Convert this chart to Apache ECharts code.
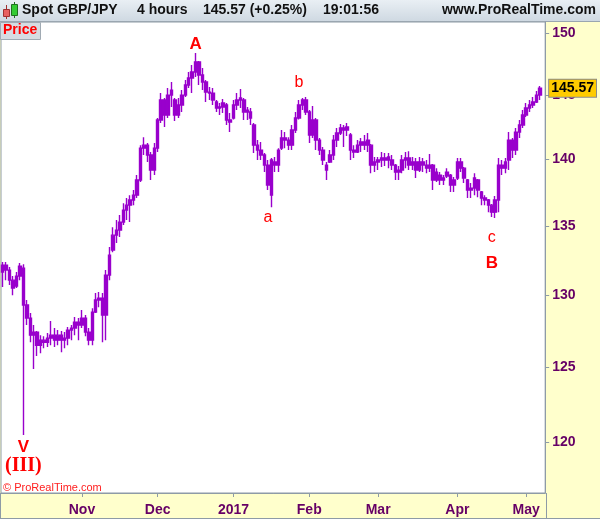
<!DOCTYPE html>
<html><head><meta charset="utf-8">
<script src="https://cdn.jsdelivr.net/npm/echarts@6/dist/echarts.min.js"></script>
<style>html,body{margin:0;padding:0;background:#ffffcc;}#c{width:600px;height:519px;}</style>
</head><body><div id="c"></div>
<script>
// Trading calendar (weekdays) shown on the category axis
const firstDay = '2016-09-29';
const lastDay = '2017-05-08';
const monthTicks = ['2016-11','2016-12','2017-01','2017-02','2017-03','2017-04','2017-05'];
const monthLabels = ['Nov','Dec','2017','Feb','Mar','Apr','May'];
const yTicks = [120,125,130,135,140,145,150];
const yRange = [116.69,150.93];
const lastPrice = [145.57];

// daily OHLC
const open = [131.66,132.16,131.80,131.08,130.65,131.37,131.94,129.31,128.39,127.20,127.41,126.50,126.85,126.71,126.99,127.20,126.85,127.20,126.85,126.99,127.55,127.69,128.11,127.90,128.39,127.41,126.85,128.81,129.66,129.80,128.60,131.44,133.25,134.34,134.71,135.30,136.19,136.56,136.94,137.31,138.45,140.88,141.11,140.35,139.20,140.88,143.06,144.63,143.45,145.02,144.63,143.45,144.24,145.02,145.82,146.38,146.86,147.67,146.62,146.06,145.26,145.18,144.48,144.00,144.08,144.24,143.06,143.22,144.24,144.63,144.63,143.69,143.69,142.67,141.11,140.73,140.35,139.58,137.31,139.82,139.58,140.88,141.66,141.50,141.11,142.28,143.22,144.24,144.63,143.69,141.89,143.06,141.50,140.73,139.58,139.82,140.35,141.50,142.05,142.44,142.28,141.89,140.73,140.58,141.11,141.35,141.11,141.11,139.58,139.82,139.97,140.12,139.97,139.97,139.58,139.05,139.20,139.97,140.12,139.58,139.82,139.20,139.82,139.58,139.35,139.58,138.45,138.82,138.45,138.75,138.82,138.07,138.60,139.82,139.35,138.45,137.69,137.84,138.45,137.54,137.09,136.94,136.56,136.04,136.94,139.58,139.35,139.97,141.50,140.73,142.12,142.67,143.45,144.00,144.24,144.48,145.02];
const close = [132.16,131.80,131.08,130.51,131.37,132.09,129.31,128.39,127.20,127.41,126.50,126.85,126.71,126.99,127.20,126.85,127.20,126.85,126.99,127.55,127.69,128.11,127.90,128.39,127.41,126.85,128.81,129.66,129.80,128.60,131.44,132.88,134.34,134.71,135.30,136.19,136.56,136.94,137.31,138.45,140.88,141.11,140.35,139.20,140.88,143.06,144.63,143.45,145.02,145.42,143.45,144.24,145.02,145.82,146.38,146.86,147.67,146.62,146.06,145.26,145.18,144.63,144.00,144.08,144.40,143.06,142.91,144.24,144.63,144.79,143.69,143.84,143.22,141.11,140.73,140.35,139.58,138.07,139.97,139.58,140.73,141.66,141.50,141.11,142.28,143.22,144.24,144.63,143.69,141.89,143.06,141.50,140.73,139.97,139.20,140.35,141.50,142.05,142.44,142.28,142.52,140.73,140.58,141.11,141.35,141.11,141.50,139.58,139.82,139.97,140.12,139.97,140.20,139.58,139.05,139.20,139.97,140.12,139.58,139.82,139.20,139.82,139.58,139.35,139.58,138.45,139.05,138.45,138.60,139.05,138.07,138.45,139.82,139.35,138.60,137.69,137.84,138.60,137.69,137.09,136.94,136.56,136.04,136.94,139.58,139.35,139.82,141.50,140.73,142.12,142.67,143.45,144.00,144.24,144.48,145.02,145.57];
const low = [130.58,131.08,130.73,130.01,130.51,131.08,120.44,127.90,126.71,124.86,125.75,125.95,126.30,126.37,126.50,126.37,126.50,126.02,126.30,126.50,126.85,127.20,126.85,127.69,127.13,126.50,126.50,128.74,129.16,126.71,126.85,131.08,133.10,133.76,134.20,135.08,135.45,135.30,136.56,137.09,138.30,140.35,139.82,138.45,138.82,140.58,142.83,142.52,143.22,144.08,142.98,143.22,143.69,144.87,145.58,145.18,146.46,145.82,145.42,144.48,144.63,144.24,143.69,143.45,143.61,142.67,142.12,143.10,143.84,144.00,143.06,143.06,142.67,140.50,139.97,139.97,139.05,137.69,136.41,139.05,139.05,140.73,140.88,140.73,140.73,142.05,143.10,143.84,143.45,141.27,141.66,140.73,140.35,139.58,138.45,139.74,139.97,140.96,141.89,140.96,141.81,139.97,140.12,140.50,140.58,140.73,140.58,138.97,139.05,139.20,139.43,139.51,139.35,139.20,138.45,138.45,138.97,139.35,139.20,139.20,138.60,139.05,139.05,138.97,139.05,137.69,138.30,138.07,138.07,138.60,137.54,137.54,138.45,139.05,138.22,137.09,137.09,137.31,137.16,136.56,136.56,136.04,135.67,135.60,136.04,138.82,138.97,139.20,140.12,140.35,141.66,142.44,143.29,143.69,144.00,144.40,144.63];
const high = [132.38,132.38,132.02,131.37,131.66,132.31,132.23,129.66,128.74,127.90,127.48,127.20,127.13,127.34,128.18,127.69,127.55,127.48,127.41,127.76,127.90,128.46,128.39,128.95,128.60,127.69,129.09,130.16,130.23,130.16,131.80,133.47,134.93,135.45,135.82,136.71,137.09,137.31,137.69,138.82,141.11,141.73,141.27,140.58,141.27,143.22,145.18,144.79,145.58,146.06,144.79,144.79,145.42,146.22,146.86,147.42,148.40,147.75,147.18,146.22,145.66,145.58,144.63,144.40,144.71,144.40,143.61,144.63,145.18,145.50,144.79,144.08,144.00,142.83,141.50,141.35,140.50,139.97,140.12,140.20,140.88,142.28,142.12,141.73,142.67,143.69,144.63,144.79,144.87,143.84,144.16,143.22,141.66,140.96,139.82,140.73,141.89,142.44,142.75,142.67,142.83,142.05,141.11,141.50,141.66,141.89,142.05,141.20,140.20,140.20,140.58,140.50,140.50,140.35,139.66,139.51,140.35,140.58,140.65,140.20,140.12,140.20,140.12,139.97,140.43,139.66,139.35,139.05,138.82,139.35,138.90,138.67,140.12,140.12,139.43,138.52,138.22,138.97,138.52,137.62,137.31,137.02,136.64,137.24,140.12,139.97,140.12,142.12,141.66,142.44,143.06,143.84,144.40,144.63,144.87,145.34,145.74];

// wave annotations: text, day index, price level
const annoText = ['A','b','a','c','B','V','(III)'];
const annoDay = [56,86,77,142,142,6,6];
const annoPrice = [149.13,145.98,135.60,134.13,132.31,119.65,118.41];

const days = [];
for (let d = new Date(firstDay + 'T00:00:00Z'); d <= new Date(lastDay + 'T00:00:00Z'); d.setUTCDate(d.getUTCDate() + 1)) {
  const w = d.getUTCDay();
  if (w > 0 && w < 6) days.push(d.toISOString().slice(0, 10));
}
const isMonthStart = (i) => i > 0 && days[i].slice(0,7) !== days[i-1].slice(0,7) && monthTicks.indexOf(days[i].slice(0,7)) >= 0;
const ohlc = open.map((o, i) => [Math.log(o), Math.log(close[i]), Math.log(low[i]), Math.log(high[i])]);

const PURPLE = '#9900cc';
const AXC = '#8e9ba6';
const LBL = '#660066';
const FF = 'Liberation Sans, Arial, sans-serif';

const annoStyle = (t) => {
  if (t === '(III)') return {fontFamily: 'Liberation Serif, serif', fontWeight: 'bold', fontSize: 20};
  if (t === 'A' || t === 'B' || t === 'V') return {fontFamily: FF, fontWeight: 'bold', fontSize: 17};
  return {fontFamily: FF, fontWeight: 'normal', fontSize: 16};
};

const chart = echarts.init(document.getElementById('c'), null, {renderer: 'canvas'});
chart.setOption({
  animation: false,
  backgroundColor: '#ffffcc',
  grid: {left: 1, right: 54, top: 22, bottom: 26, show: true, backgroundColor: '#ffffff', borderColor: AXC, borderWidth: 1},
  xAxis: {
    type: 'category', data: days, boundaryGap: true,
    axisLine: {show: true, lineStyle: {color: AXC}},
    axisTick: {show: true, alignWithLabel: true, interval: (i) => isMonthStart(i), length: 4, lineStyle: {color: AXC}},
    axisLabel: {interval: (i) => isMonthStart(i), formatter: (v) => monthLabels[monthTicks.indexOf(v.slice(0,7))],
      color: LBL, fontWeight: 'bold', fontSize: 14, fontFamily: FF, margin: 10},
    splitLine: {show: false}
  },
  yAxis: [{
    type: 'value', position: 'right', min: Math.log(yRange[0]), max: Math.log(yRange[1]),
    splitLine: {show: false},
    axisLine: {show: true, lineStyle: {color: AXC}},
    axisTick: {show: true, customValues: yTicks.map(Math.log), length: 4, lineStyle: {color: AXC}},
    axisLabel: {customValues: yTicks.map(Math.log), formatter: (v) => String(Math.round(Math.exp(v))),
      color: LBL, fontWeight: 'bold', fontSize: 14, fontFamily: FF, margin: 7}
  }, {
    type: 'value', position: 'right', min: Math.log(yRange[0]), max: Math.log(yRange[1]),
    splitLine: {show: false}, axisLine: {show: false},
    axisTick: {show: false},
    axisLabel: {customValues: lastPrice.map(Math.log), formatter: (v) => Math.exp(v).toFixed(2),
      color: '#000', fontWeight: 'bold', fontSize: 14, fontFamily: FF, margin: 4,
      backgroundColor: '#ffcc00', borderColor: '#8a8a8a', borderWidth: 1, padding: [2, 2, 1, 2]}
  }],
  series: [{
    type: 'candlestick', data: ohlc, barWidth: 3,
    itemStyle: {color: PURPLE, color0: PURPLE, borderColor: PURPLE, borderColor0: PURPLE, borderColorDoji: PURPLE, borderWidth: 1.4},
    markPoint: {
      symbol: 'rect', symbolSize: 1, itemStyle: {color: 'transparent'},
      data: annoText.map((t, i) => ({
        coord: [days[annoDay[i]], Math.log(annoPrice[i])],
        label: Object.assign({show: true, position: 'inside', formatter: t, color: '#ff0000'}, annoStyle(t))
      }))
    }
  }],
  graphic: [
    {type: 'rect', shape: {x: 0, y: 0, width: 600, height: 21}, style: {fill: new echarts.graphic.LinearGradient(0, 0, 0, 1, [{offset: 0, color: '#e9eff4'}, {offset: 1, color: '#cfd9e2'}])}, silent: true},
    {type: 'line', shape: {x1: 0, y1: 21.5, x2: 600, y2: 21.5}, style: {stroke: '#9aa6b0', lineWidth: 1}},
    {type: 'line', shape: {x1: 6.5, y1: 5, x2: 6.5, y2: 19}, style: {stroke: '#a03030', lineWidth: 1}},
    {type: 'rect', shape: {x: 3.5, y: 9.5, width: 6, height: 7}, style: {fill: '#e86060', stroke: '#a03030', lineWidth: 1}},
    {type: 'line', shape: {x1: 14.5, y1: 2, x2: 14.5, y2: 18}, style: {stroke: '#207020', lineWidth: 1}},
    {type: 'rect', shape: {x: 11.5, y: 4.5, width: 6, height: 11}, style: {fill: '#33cc33', stroke: '#207020', lineWidth: 1}},
    {type: 'text', left: 22, top: 3, style: {text: 'Spot GBP/JPY', font: 'bold 14px ' + FF, fill: '#111'}},
    {type: 'text', left: 137, top: 3, style: {text: '4 hours', font: 'bold 14px ' + FF, fill: '#111'}},
    {type: 'text', left: 203, top: 3, style: {text: '145.57 (+0.25%)', font: 'bold 14px ' + FF, fill: '#111'}},
    {type: 'text', left: 323, top: 3, style: {text: '19:01:56', font: 'bold 14px ' + FF, fill: '#111'}},
    {type: 'text', right: 4, top: 3, style: {text: 'www.ProRealTime.com', font: 'bold 14px ' + FF, fill: '#111'}},
    {type: 'rect', shape: {x: 0.5, y: 22.5, width: 40, height: 17}, style: {fill: '#d6dce2', stroke: '#a0aab3', lineWidth: 1}},
    {type: 'text', left: 3, top: 23, style: {text: 'Price', font: 'bold 14px ' + FF, fill: '#ff0000'}},
    {type: 'text', left: 3, top: 482, style: {text: '\u00a9 ProRealTime.com', font: '11px ' + FF, fill: '#ff2020'}},
    {type: 'line', shape: {x1: 546.5, y1: 493, x2: 546.5, y2: 519}, style: {stroke: AXC, lineWidth: 1}},
    {type: 'line', shape: {x1: 0, y1: 518.5, x2: 600, y2: 518.5}, style: {stroke: AXC, lineWidth: 1}},
    {type: 'line', shape: {x1: 0.5, y1: 493, x2: 0.5, y2: 519}, style: {stroke: AXC, lineWidth: 1}}
  ]
});
</script></body></html>
